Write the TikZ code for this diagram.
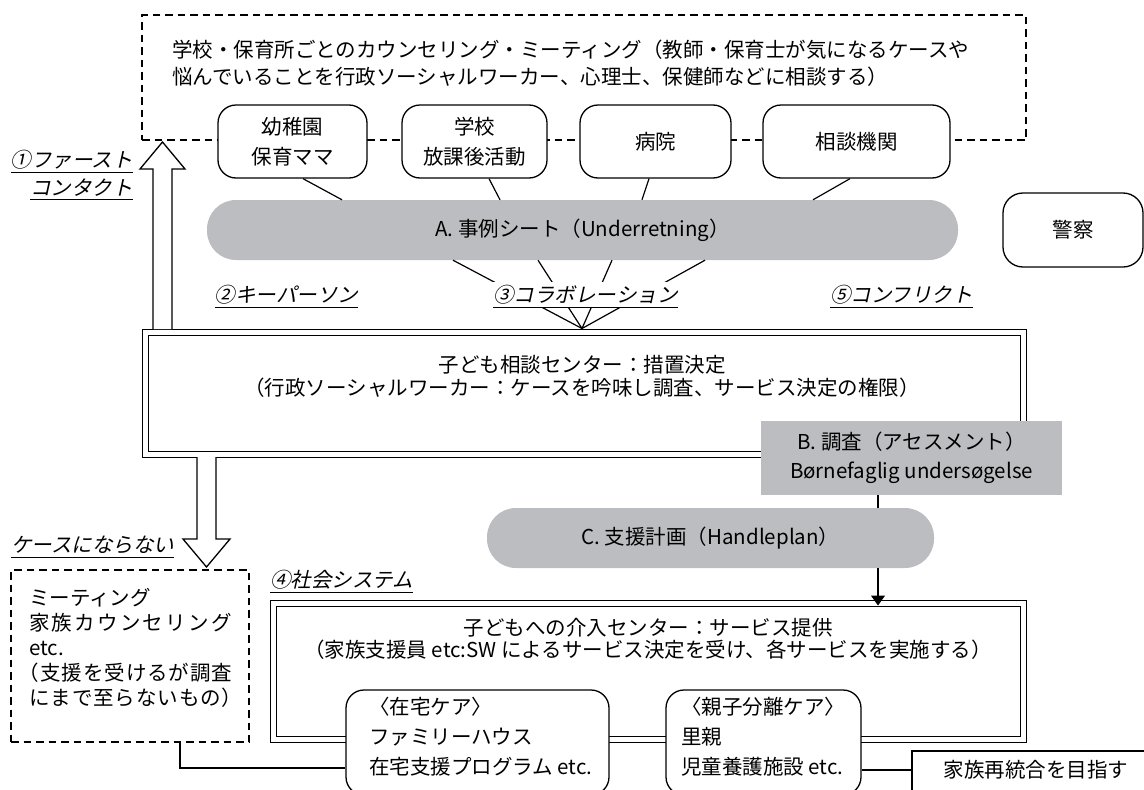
\documentclass[tikz,border=0pt]{standalone}
\usepackage{fontspec}
\setmainfont{Noto Sans CJK JP}
\newfontfamily\jit{Noto Sans CJK JP}[FakeSlant=0.22]
\usetikzlibrary{arrows.meta}
\definecolor{pillgray}{HTML}{BCBDC0}
\begin{document}
\begin{tikzpicture}[x=1pt,y=-1pt,
  every node/.style={font=\fontsize{20.5}{25}\selectfont, inner sep=0pt},
  rbox/.style={draw, line width=1.3pt, rounded corners=18pt, fill=white, align=center},
  pill/.style={fill=pillgray, rounded corners=29pt, align=center},
  ul/.style={font=\jit\fontsize{20.5}{25}\selectfont, inner ysep=3pt,
    append after command={(\tikzlastnode.south west) edge[line width=1pt] (\tikzlastnode.south east)}},
  dbl/.style={draw, double, double distance=5pt, line width=1pt},
  conn/.style={line width=1.2pt},
  dashbox/.style={draw, line width=1.3pt, dash pattern=on 7.5pt off 5pt},
  blockar/.style={draw, line width=1.3pt, fill=white, line join=miter},
]
\useasboundingbox (0,0) rectangle (1144,790);

% top dashed box
\node[dashbox, minimum width=884pt, minimum height=125pt] (top) at (584,77.5) {};
\node[anchor=west, align=left, font=\fontsize{20.5}{27}\selectfont] (toptext) at (172,63.5)
  {学校・保育所ごとのカウンセリング・ミーティング（教師・保育士が気になるケースや\\悩んでいることを行政ソーシャルワーカー、心理士、保健師などに相談する）};

% institutions
\node[rbox, minimum width=149pt, minimum height=73pt, font=\fontsize{20.5}{30}\selectfont] (b1) at (292.5,141.5) {幼稚園\\保育ママ};
\node[rbox, minimum width=145pt, minimum height=73pt, font=\fontsize{20.5}{30}\selectfont] (b2) at (474.5,141.5) {学校\\放課後活動};
\node[rbox, minimum width=151pt, minimum height=73pt] (b3) at (655.5,141.5) {病院};
\node[rbox, minimum width=187pt, minimum height=73pt] (b4) at (856.5,141.5) {相談機関};

% A
\node[pill, minimum width=751pt, minimum height=60pt] (A) at (582.5,230) {A. 事例シート（Underretning）};
\node[rbox, rounded corners=20pt, minimum width=140pt, minimum height=74pt] (pol) at (1073,230) {警察};

\draw[conn] ([xshift=10.5pt]b1.south) -- ([xshift=-240.5pt]A.north);
\draw[conn] ([xshift=14.5pt]b2.south) -- ([xshift=-82.5pt]A.north);
\draw[conn] ([xshift=-6.5pt]b3.south) -- ([xshift=59.5pt]A.north);
\draw[conn] ([xshift=-6.5pt]b4.south) -- ([xshift=230.5pt]A.north);

% centre box
\node[dbl, minimum width=878pt, minimum height=122pt] (ctr) at (584,393) {};
\node[align=center, font=\fontsize{20.5}{23}\selectfont] (ctrtext) at (582,376.5)
  {子ども相談センター：措置決定\\（行政ソーシャルワーカー：ケースを吟味し調査、サービス決定の権限）};

\coordinate (conv) at ([xshift=-2pt,yshift=3pt]ctr.north);
\draw[conn] ([xshift=-129.5pt]A.south) -- (conv);
\draw[conn] ([xshift=-44.5pt]A.south) -- (conv);
\draw[conn] ([xshift=29.5pt]A.south) -- (conv);
\draw[conn] ([xshift=122.5pt]A.south) -- (conv);

% labels
\node[ul, fill=white] (lab3) at (585.5,295) {③コラボレーション};
\node[ul] (lab2) at (286.5,295) {②キーパーソン};
\node[ul] (lab5) at (901.5,295) {⑤コンフリクト};
\node[ul, anchor=east] (lab1a) at (133,160) {①ファースト};
\node[ul, anchor=east] (lab1b) at (133,188) {コンタクト};
\node[ul, anchor=west] (lab0) at (11,545) {ケースにならない};
\node[ul, anchor=west] (lab4) at (270,580) {④社会システム};

% block arrows
\draw[blockar] (153,329) -- (153,169) -- (140,169) -- (162.5,142) -- (185,169) -- (172,169) -- (172,329);
\draw[blockar] (197,457) -- (197,539) -- (183,539) -- (206.5,567) -- (230,539) -- (216,539) -- (216,457);

% B and C
\node[fill=pillgray, align=center, minimum width=301pt, minimum height=74pt, font=\fontsize{20.5}{29}\selectfont] (B) at (911.5,458)
  {B. 調査（アセスメント）\\Børnefaglig undersøgelse};
\node[pill, minimum width=447pt, minimum height=60pt] (C) at (710.5,538) {C. 支援計画（Handleplan）};

% lower box
\node[dbl, minimum width=750pt, minimum height=136pt] (low) at (648,671) {};
\node[align=center, font=\fontsize{20.5}{22}\selectfont] (lowtext) at (648,639)
  {子どもへの介入センター：サービス提供\\（家族支援員 etc:SW によるサービス決定を受け、各サービスを実施する）};

\coordinate (bx) at (878,0);
\draw[conn] (B.south -| bx) -- (C.north -| bx);
\draw[conn, -{Triangle[length=10pt,width=14pt]}, shorten >=-3pt] (C.south -| bx) -- (bx |- low.north);

% left dashed box
\node[dashbox, minimum width=238pt, minimum height=172pt] (ldb) at (130,656) {};
\node[anchor=west, align=left, font=\fontsize{20.5}{25}\selectfont] (ltext) at (29,648)
  {ミーティング\\{\addfontfeatures{LetterSpace=11}家族カウンセリング}\\etc.\\\kern-0.5em{\addfontfeatures{LetterSpace=4.5}（支援を受けるが調査}\\{\addfontfeatures{LetterSpace=4.5}にまで至らないもの）}};

% care boxes
\node[rbox, minimum width=263pt, minimum height=105pt] (home) at (477.5,742.5) {};
\node[anchor=west, align=left, font=\fontsize{20.5}{30}\selectfont] (hometext) at (369,737)
  {〈在宅ケア〉\\ファミリーハウス\\在宅支援プログラム etc.};
\node[rbox, minimum width=195pt, minimum height=105pt] (sep) at (763.5,742.5) {};
\node[anchor=west, align=left, font=\fontsize{20.5}{30}\selectfont] (septext) at (681,737)
  {〈親子分離ケア〉\\里親\\児童養護施設 etc.};

\node[draw, line width=1.3pt, fill=white, minimum width=238pt, minimum height=59pt] (fam) at (1031,780.5) {};
\node (famtext) at (1036,770) {家族再統合を目指す};

\draw[conn] ([xshift=50pt]ldb.south) |- ([yshift=-25.5pt]home.west);
\draw[conn] ([yshift=-27.5pt]sep.east) -- ([yshift=-27.5pt]sep.east -| fam.west);
\end{tikzpicture}
\end{document}
